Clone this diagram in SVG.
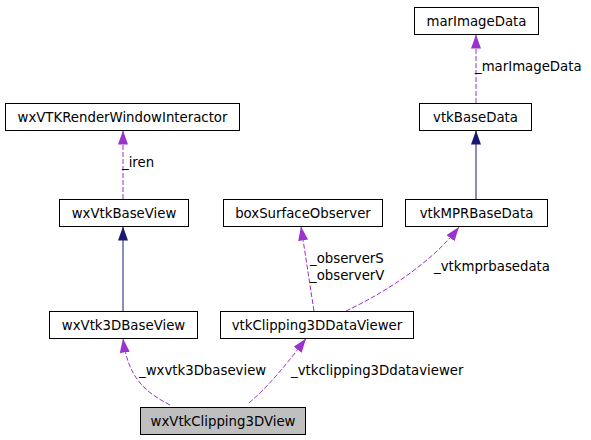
<svg xmlns="http://www.w3.org/2000/svg" width="591" height="440" viewBox="0 0 591 440">
<style>
.node rect{fill:#ffffff;stroke:#000000;stroke-width:1}
.node.hl rect{fill:#bfbfbf}
text{font-family:"DejaVu Sans","Liberation Sans",sans-serif;font-size:13.3px;fill:#000000}
.node text{text-anchor:middle}
.dash{fill:none;stroke:#9a32cd;stroke-width:1;stroke-dasharray:5,2;marker-end:url(#ap)}
.solid{fill:none;stroke:#191970;stroke-width:1;marker-end:url(#an)}
</style>
<defs>
<marker id="ap" viewBox="0 0 14 10" refX="14" refY="5" markerUnits="userSpaceOnUse" markerWidth="14" markerHeight="10" orient="auto"><path d="M0,0 L14,5 L0,10 z" fill="#9a32cd"/></marker>
<marker id="an" viewBox="0 0 14 10" refX="14" refY="5" markerUnits="userSpaceOnUse" markerWidth="14" markerHeight="10" orient="auto"><path d="M0,0 L14,5 L0,10 z" fill="#191970"/></marker>
</defs>
<rect width="591" height="440" fill="#ffffff"/>
<g id="edges">
<path class="dash" d="M476,103 L476,34.5"/>
<path class="solid" d="M476,199 L476,130.5"/>
<path class="dash" d="M123,199 L123,130.5"/>
<path class="solid" d="M123,311 L123,226.5"/>
<path class="dash" d="M314,311 L301,226.5"/>
<path class="dash" d="M346,311 C380,295 430,265 459,227"/>
<path class="dash" d="M170,405 C145,392 128,378 123,338.5"/>
<path class="dash" d="M249,403 C270,385 290,360 306,338.5"/>
<text x="475" y="71">_marImageData</text>
<text x="122" y="167">_iren</text>
<text x="310" y="263">_observerS</text>
<text x="310" y="279.5">_observerV</text>
<text x="434" y="270.5">_vtkmprbasedata</text>
<text x="139" y="374.5">_wxvtk3Dbaseview</text>
<text x="291" y="374.5">_vtkclipping3Ddataviewer</text>
</g>
<g id="marImageData" class="node"><rect x="414.5" y="7.5" width="124" height="27"/><text x="476.5" y="25.5">marImageData</text></g>
<g id="vtkBaseData" class="node"><rect x="419.5" y="103.5" width="112" height="27"/><text x="475.5" y="121.5">vtkBaseData</text></g>
<g id="vtkMPRBaseData" class="node"><rect x="405.5" y="199.5" width="142" height="27"/><text x="476.5" y="217.5">vtkMPRBaseData</text></g>
<g id="wxVTKRenderWindowInteractor" class="node"><rect x="5.5" y="103.5" width="234" height="27"/><text x="122.5" y="121.5">wxVTKRenderWindowInteractor</text></g>
<g id="wxVtkBaseView" class="node"><rect x="59.5" y="199.5" width="129" height="27"/><text x="124" y="217.5">wxVtkBaseView</text></g>
<g id="boxSurfaceObserver" class="node"><rect x="223.5" y="199.5" width="159" height="27"/><text x="303" y="217.5">boxSurfaceObserver</text></g>
<g id="wxVtk3DBaseView" class="node"><rect x="49.5" y="311.5" width="148" height="27"/><text x="123.5" y="329.5">wxVtk3DBaseView</text></g>
<g id="vtkClipping3DDataViewer" class="node"><rect x="220.5" y="311.5" width="193" height="27"/><text x="317" y="329.5">vtkClipping3DDataViewer</text></g>
<g id="wxVtkClipping3DView" class="node hl"><rect x="140.5" y="407.5" width="165" height="27"/><text x="223" y="425.5">wxVtkClipping3DView</text></g>
</svg>
